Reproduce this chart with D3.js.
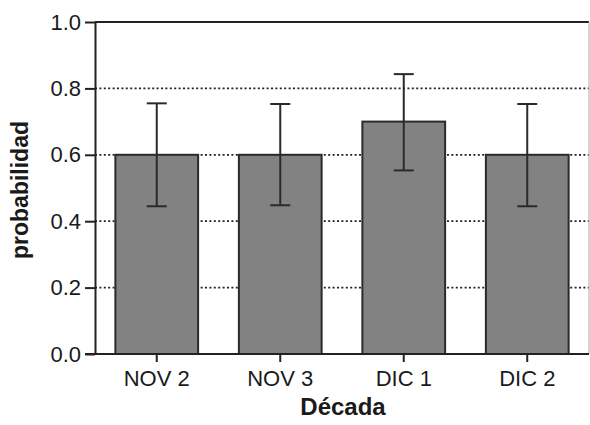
<!DOCTYPE html>
<html>
<head>
<meta charset="utf-8">
<script src="https://cdn.jsdelivr.net/npm/d3@7"></script>
<style>
  body { margin: 0; background: #fff; }
  svg text { font-family: "Liberation Sans", Arial, sans-serif; fill: #1a1a1a; }
</style>
</head>
<body>
<div id="app"></div>
<script>
const categories = ['NOV 2', 'NOV 3', 'DIC 1', 'DIC 2'];
const values = [0.6, 0.6, 0.7, 0.6];
const errLow = [0.445, 0.448, 0.553, 0.445];
const errHigh = [0.755, 0.753, 0.843, 0.753];
const yTicks = [0.0, 0.2, 0.4, 0.6, 0.8, 1.0];

const width = 590, height = 425;
const margin = { top: 22, right: 1, bottom: 71, left: 95 };

const svg = d3.select('#app').append('svg')
  .attr('width', width).attr('height', height);

const x = d3.scaleBand()
  .domain(categories)
  .range([margin.left, width - margin.right])
  .paddingInner(0.33)
  .paddingOuter(0.165);

const y = d3.scaleLinear()
  .domain([0, 1])
  .range([height - margin.bottom, margin.top]);

// dotted grid
svg.append('g')
  .selectAll('line')
  .data(yTicks.filter(d => d > 0 && d < 1))
  .join('line')
  .attr('x1', margin.left).attr('x2', width - margin.right)
  .attr('y1', d => y(d)).attr('y2', d => y(d))
  .attr('stroke', '#222').attr('stroke-width', 1.8)
  .attr('stroke-dasharray', '2,2.4');

// bars
svg.append('g')
  .selectAll('rect')
  .data(values)
  .join('rect')
  .attr('x', (d, i) => x(categories[i]))
  .attr('y', d => y(d))
  .attr('width', x.bandwidth())
  .attr('height', d => y(0) - y(d))
  .attr('fill', '#828282')
  .attr('stroke', '#2a2a2a')
  .attr('stroke-width', 2);

// error bars
const eb = svg.append('g').attr('stroke', '#2a2a2a').attr('stroke-width', 2);
categories.forEach((c, i) => {
  const cx = x(c) + x.bandwidth() / 2;
  eb.append('line').attr('x1', cx).attr('x2', cx)
    .attr('y1', y(errLow[i])).attr('y2', y(errHigh[i]));
  [errLow[i], errHigh[i]].forEach(v => {
    eb.append('line').attr('x1', cx - 10).attr('x2', cx + 10)
      .attr('y1', y(v)).attr('y2', y(v));
  });
});

// frame: top and right
svg.append('line')
  .attr('x1', margin.left).attr('x2', width - margin.right)
  .attr('y1', y(1)).attr('y2', y(1))
  .attr('stroke', '#222').attr('stroke-width', 2);
svg.append('line')
  .attr('x1', width - margin.right).attr('x2', width - margin.right)
  .attr('y1', y(1)).attr('y2', y(0))
  .attr('stroke', '#aaa').attr('stroke-width', 1);

// y axis
const yAxis = svg.append('g')
  .attr('transform', `translate(${margin.left},0)`)
  .call(d3.axisLeft(y).tickValues(yTicks).tickFormat(d3.format('.1f')).tickSize(10).tickPadding(4).tickSizeOuter(0));
yAxis.selectAll('line, path').attr('stroke', '#222').attr('stroke-width', 2);
yAxis.selectAll('text').attr('font-size', 22).attr('fill', '#1a1a1a')
  .style('font-family', '"Liberation Sans", Arial, sans-serif');

// x axis
const xAxis = svg.append('g')
  .attr('transform', `translate(0,${y(0)})`)
  .call(d3.axisBottom(x).tickSize(8).tickPadding(8).tickSizeOuter(0));
xAxis.select('.domain').attr('d', `M${margin.left - 10},0H${width - margin.right}`);
xAxis.selectAll('line, path').attr('stroke', '#222').attr('stroke-width', 2);
xAxis.selectAll('text').attr('font-size', 22).attr('fill', '#1a1a1a')
  .style('font-family', '"Liberation Sans", Arial, sans-serif');

// axis titles
svg.append('text')
  .attr('transform', `translate(28,${(y(0) + y(1)) / 2 + 2}) rotate(-90)`)
  .attr('text-anchor', 'middle')
  .attr('font-size', 23).attr('font-weight', 'bold')
  .text('probabilidad');

svg.append('text')
  .attr('x', 343)
  .attr('y', 415)
  .attr('text-anchor', 'middle')
  .attr('font-size', 24).attr('font-weight', 'bold')
  .text('Década');
</script>
</body>
</html>
